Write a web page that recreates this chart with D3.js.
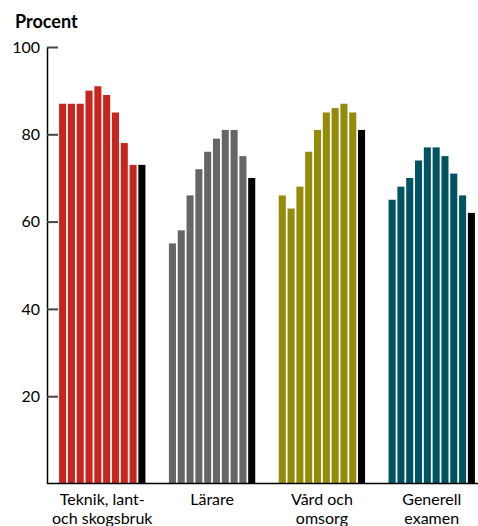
<!DOCTYPE html>
<html><head><meta charset="utf-8">
<script src="https://cdn.jsdelivr.net/npm/d3@7"></script>
<style>
html,body{margin:0;padding:0;background:#fff;}
svg{display:block;font-family:Lato,"Open Sans",sans-serif;}
</style></head>
<body>
<svg id="chart" width="478" height="526"></svg>
<script>
const categories = ["Teknik, lant-|och skogsbruk", "Lärare", "Vård och|omsorg", "Generell|examen"];
const colors = ["#C8251F", "#666666", "#948B0A", "#005462"];
const seriesTeknik = [87, 87, 87, 90, 91, 89, 85, 78, 73, 73];
const seriesLarare = [55, 58, 66, 72, 76, 79, 81, 81, 75, 70];
const seriesVard = [66, 63, 68, 76, 81, 85, 86, 87, 85, 81];
const seriesGenerell = [65, 68, 70, 74, 77, 77, 75, 71, 66, 62];
const yTicks = [20, 40, 60, 80, 100];
const yLabel = "Procent";

const allSeries = [seriesTeknik, seriesLarare, seriesVard, seriesGenerell];
const svg = d3.select("#chart");
const mLeft = 47, mBottom = 483.5, mTop = 47;

const y = d3.scaleLinear().domain([0, 100]).range([mBottom, mTop]);
const x0 = d3.scaleBand().domain(categories).range([mLeft, 487]).paddingInner(0.214).paddingOuter(0.11);
const x1 = d3.scaleBand().domain(d3.range(10)).range([0, x0.bandwidth()]).paddingInner(0.2).paddingOuter(0);

const groups = svg.append("g").selectAll("g").data(categories).join("g")
  .attr("transform", d => `translate(${x0(d)},0)`);

groups.each(function(cat, gi){
  d3.select(this).selectAll("rect").data(allSeries[gi]).join("rect")
    .attr("x", (d, i) => x1(i))
    .attr("width", x1.bandwidth())
    .attr("y", d => y(d))
    .attr("height", d => y(0) - y(d))
    .attr("fill", (d, i) => i === 9 ? "#000" : colors[gi]);
});

// y axis
const yAxis = d3.axisLeft(y).tickValues(yTicks).tickSizeInner(-11).tickSizeOuter(0).tickPadding(7);
const ga = svg.append("g").attr("transform", `translate(${mLeft},0)`).call(yAxis);
ga.select(".domain").attr("stroke", "#000").attr("stroke-width", 1.5);
ga.selectAll(".tick line").attr("stroke", "#444").attr("stroke-width", 2);
ga.selectAll(".tick text").attr("font-size", 16).attr("fill", "#000")
  .attr("font-family", "Lato, sans-serif");

// baseline
svg.append("line").attr("x1", mLeft).attr("x2", 478).attr("y1", y(0)).attr("y2", y(0))
  .attr("stroke", "#000").attr("stroke-width", 1.5);

// y label
svg.append("text").attr("x", 15).attr("y", 28).text(yLabel)
  .attr("font-size", 18).attr("font-weight", "bold").attr("fill", "#000");

// category labels
const lab = svg.append("g").selectAll("text").data(categories).join("text")
  .attr("text-anchor", "middle")
  .attr("font-size", 16).attr("fill", "#000")
  .attr("transform", d => `translate(${x0(d) + x0.bandwidth()/2},0)`);
lab.each(function(d){
  const lines = d.split("|");
  d3.select(this).selectAll("tspan").data(lines).join("tspan")
    .attr("x", 0).attr("y", (l, i) => 504.5 + i * 19.3).text(l => l);
});
</script>
</body></html>
